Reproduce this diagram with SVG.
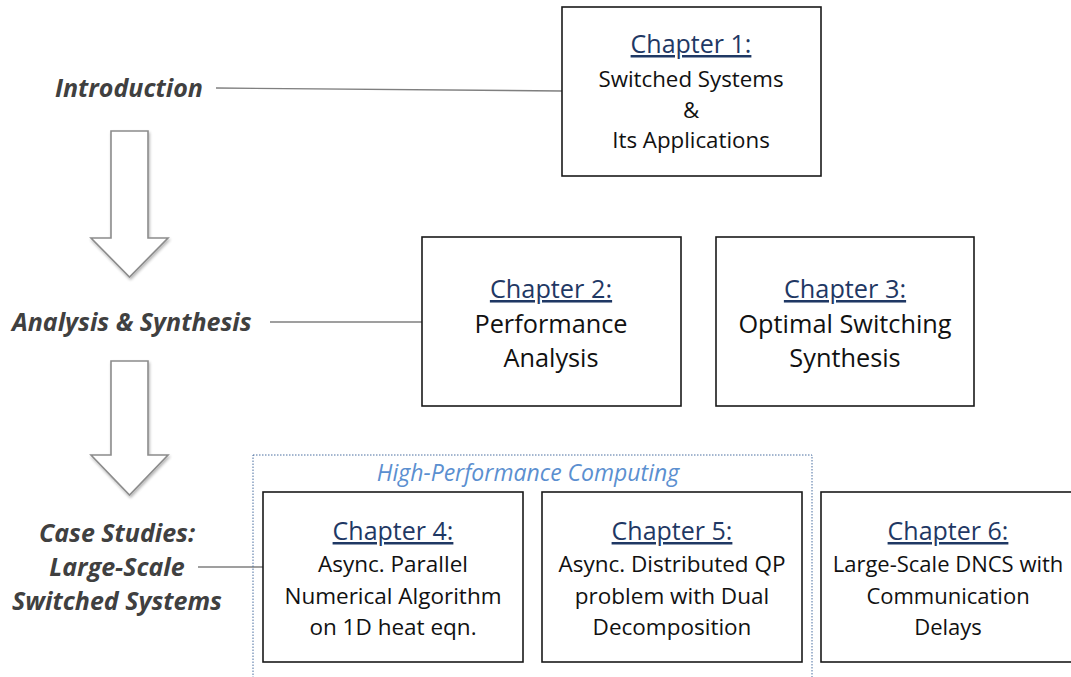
<svg xmlns="http://www.w3.org/2000/svg" width="1071" height="677" viewBox="0 0 1071 677">
<style>
.box{fill:#fff;stroke:#1a1a1a;stroke-width:1.6}
.lbl{font-family:"Open Sans",Lato,sans-serif;font-weight:bold;font-style:italic;fill:#404040;font-size:25px}
.ch{font-family:"Open Sans",Lato,sans-serif;fill:#1f3864;text-decoration:underline;text-anchor:middle}
.tx{font-family:"Open Sans",Lato,sans-serif;fill:#111;text-anchor:middle}
.conn{stroke:#7f7f7f;stroke-width:1.4;fill:none}
.arrow{fill:#fff;stroke:#8c8c8c;stroke-width:1.6}
</style>
<defs>
<filter id="sh" x="-20%" y="-20%" width="140%" height="140%">
<feGaussianBlur in="SourceAlpha" stdDeviation="1.5"/>
<feOffset dx="1" dy="2"/>
<feComponentTransfer><feFuncA type="linear" slope="0.3"/></feComponentTransfer>
<feMerge><feMergeNode/><feMergeNode in="SourceGraphic"/></feMerge>
</filter>
</defs>

<g id="connectors">
<line class="conn" x1="216" y1="88" x2="562" y2="91"/>
<line class="conn" x1="270" y1="322" x2="422" y2="322"/>
<line class="conn" x1="198" y1="567" x2="263" y2="567"/>
<path class="arrow" filter="url(#sh)" d="M111,131 H148 V238 H168 L129.5,277 L91,238 H111 Z"/>
<path class="arrow" filter="url(#sh)" d="M111,361 H148 V455 H168 L129.5,495 L91,455 H111 Z"/>
</g>

<g id="label-intro"><text class="lbl" x="55" y="97">Introduction</text></g>
<g id="label-analysis"><text class="lbl" x="12" y="331">Analysis &amp; Synthesis</text></g>
<g id="label-case">
<text class="lbl" x="117" y="542" text-anchor="middle">Case Studies:</text>
<text class="lbl" x="117" y="576" text-anchor="middle">Large-Scale</text>
<text class="lbl" x="117" y="610" text-anchor="middle">Switched Systems</text>
</g>

<g id="ch1">
<rect class="box" x="562" y="7" width="259" height="169"/>
<text class="ch" x="691" y="53" font-size="25">Chapter 1:</text>
<text class="tx" x="691" y="87" font-size="22.3">Switched Systems</text>
<text class="tx" x="691" y="118" font-size="22.3">&amp;</text>
<text class="tx" x="691" y="148" font-size="22.3">Its Applications</text>
</g>

<g id="ch2">
<rect class="box" x="422" y="237" width="259" height="169"/>
<text class="ch" x="551" y="298" font-size="25.3">Chapter 2:</text>
<text class="tx" x="551" y="333" font-size="25.3">Performance</text>
<text class="tx" x="551" y="367" font-size="25.3">Analysis</text>
</g>

<g id="ch3">
<rect class="box" x="716" y="237" width="258" height="169"/>
<text class="ch" x="845" y="298" font-size="25.3">Chapter 3:</text>
<text class="tx" x="845" y="333" font-size="25.3">Optimal Switching</text>
<text class="tx" x="845" y="367" font-size="25.3">Synthesis</text>
</g>

<g id="hpc">
<rect x="253" y="455" width="559" height="226" fill="none" stroke="#4a6fa0" stroke-width="1" stroke-dasharray="1.5,1.5"/>
<text x="528" y="481" font-family="'Open Sans',Lato,sans-serif" font-style="italic" font-size="23" fill="#5b8fd0" text-anchor="middle">High-Performance Computing</text>
</g>

<g id="ch4">
<rect class="box" x="263" y="492" width="260" height="170"/>
<text class="ch" x="393" y="540" font-size="25">Chapter 4:</text>
<text class="tx" x="393" y="572" font-size="22.5">Async. Parallel</text>
<text class="tx" x="393" y="604" font-size="22.5">Numerical Algorithm</text>
<text class="tx" x="393" y="635" font-size="22.5">on 1D heat eqn.</text>
</g>

<g id="ch5">
<rect class="box" x="542" y="492" width="260" height="170"/>
<text class="ch" x="672" y="540" font-size="25">Chapter 5:</text>
<text class="tx" x="672" y="572" font-size="22.5">Async. Distributed QP</text>
<text class="tx" x="672" y="604" font-size="22.5">problem with Dual</text>
<text class="tx" x="672" y="635" font-size="22.5">Decomposition</text>
</g>

<g id="ch6">
<rect class="box" x="821" y="492" width="260" height="170"/>
<text class="ch" x="948" y="540" font-size="25">Chapter 6:</text>
<text class="tx" x="948" y="572" font-size="22">Large-Scale DNCS with</text>
<text class="tx" x="948" y="604" font-size="22">Communication</text>
<text class="tx" x="948" y="635" font-size="22">Delays</text>
</g>
</svg>
